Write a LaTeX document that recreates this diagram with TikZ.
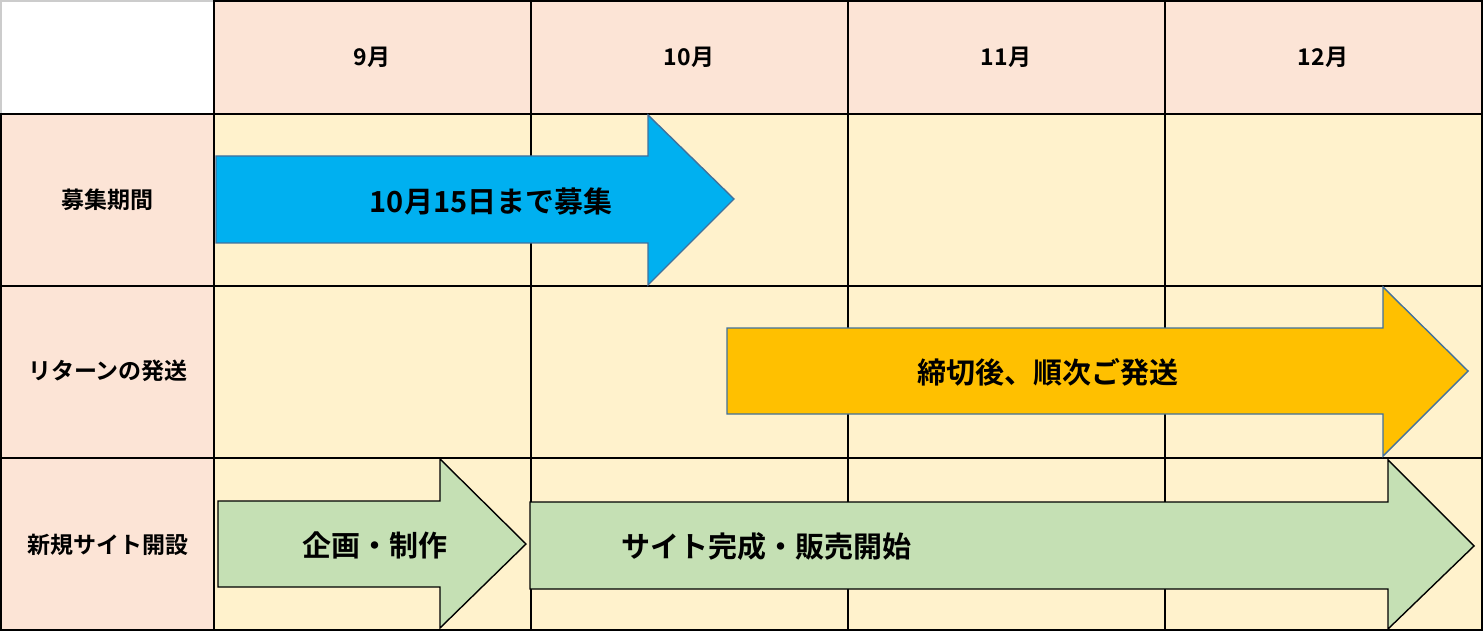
\documentclass[tikz,border=0pt]{standalone}
\usepackage{fontspec}
\setmainfont{Noto Sans CJK JP}[BoldFont={Noto Sans CJK JP Bold}]
\definecolor{hdr}{HTML}{FCE4D6}
\definecolor{cellc}{HTML}{FFF2CC}
\definecolor{bluef}{HTML}{00B0F0}
\definecolor{orangef}{HTML}{FFC000}
\definecolor{greenf}{HTML}{C5E0B4}
\definecolor{edgeb}{HTML}{41719C}
\begin{document}
\begin{tikzpicture}[x=1pt,y=-1pt,
  grid/.style={line width=1.8pt,black},
  lbl/.style={font=\fontsize{23}{26}\selectfont\bfseries,inner sep=0pt},
  arrtxt/.style={font=\fontsize{29}{32}\selectfont\bfseries,inner sep=0pt},
  bluearrow/.style={fill=bluef,draw=edgeb,line width=1.4pt,line join=miter},
  orangearrow/.style={fill=orangef,draw=edgeb,line width=1.4pt,line join=miter},
  greenarrow/.style={fill=greenf,draw=black,line width=1.4pt,line join=miter}]
\useasboundingbox (0,0) rectangle (1484,631);
% cells
\fill[white] (0,0) rectangle (214,114);
\draw[gray!40,line width=1.5pt] (1,114) -- (1,1) -- (214,1);
\fill[hdr] (214,0) rectangle (1482,114);
\fill[hdr] (0,114) rectangle (214,630);
\fill[cellc] (214,114) rectangle (1482,630);
% grid
\foreach \y in {114,286,458,630} \draw[grid,line width=2.2pt] (0,\y) -- (1483,\y);
\draw[grid] (214,1) -- (1483,1);
\draw[grid] (1,114) -- (1,630);
\foreach \x in {214,531,848,1165,1482} \draw[grid] (\x,0) -- (\x,631);
% headers
\node[lbl] (m9) at (372,57) {9月};
\node[lbl] (m10) at (689,57) {10月};
\node[lbl] (m11) at (1006,57) {11月};
\node[lbl] (m12) at (1323,57) {12月};
\node[lbl] (r1) at (107,200) {募集期間};
\node[lbl] (r2) at (108,371) {リターンの発送};
\node[lbl] (r3) at (108,545) {新規サイト開設};
% arrows
\draw[bluearrow] (216,156) -- (648,156) -- (648,115) -- (734,199) -- (648,285) -- (648,243) -- (216,243) -- cycle;
\draw[orangearrow] (727,328) -- (1383,328) -- (1383,287) -- (1468,371) -- (1383,456) -- (1383,414) -- (727,414) -- cycle;
\draw[greenarrow] (218,501) -- (440,501) -- (440,459) -- (526,544) -- (440,628) -- (440,587) -- (218,587) -- cycle;
\draw[greenarrow] (530,502) -- (1388,502) -- (1388,460) -- (1474,546) -- (1388,629) -- (1388,589) -- (530,589) -- cycle;
% arrow texts
\node[arrtxt] (t1) at (491,202) {10月15日まで募集};
\node[arrtxt] (t2) at (1048,372) {締切後、順次ご発送};
\node[arrtxt] (t3) at (375,545) {企画・制作};
\node[arrtxt] (t4) at (766,547) {サイト完成・販売開始};
\end{tikzpicture}
\end{document}
